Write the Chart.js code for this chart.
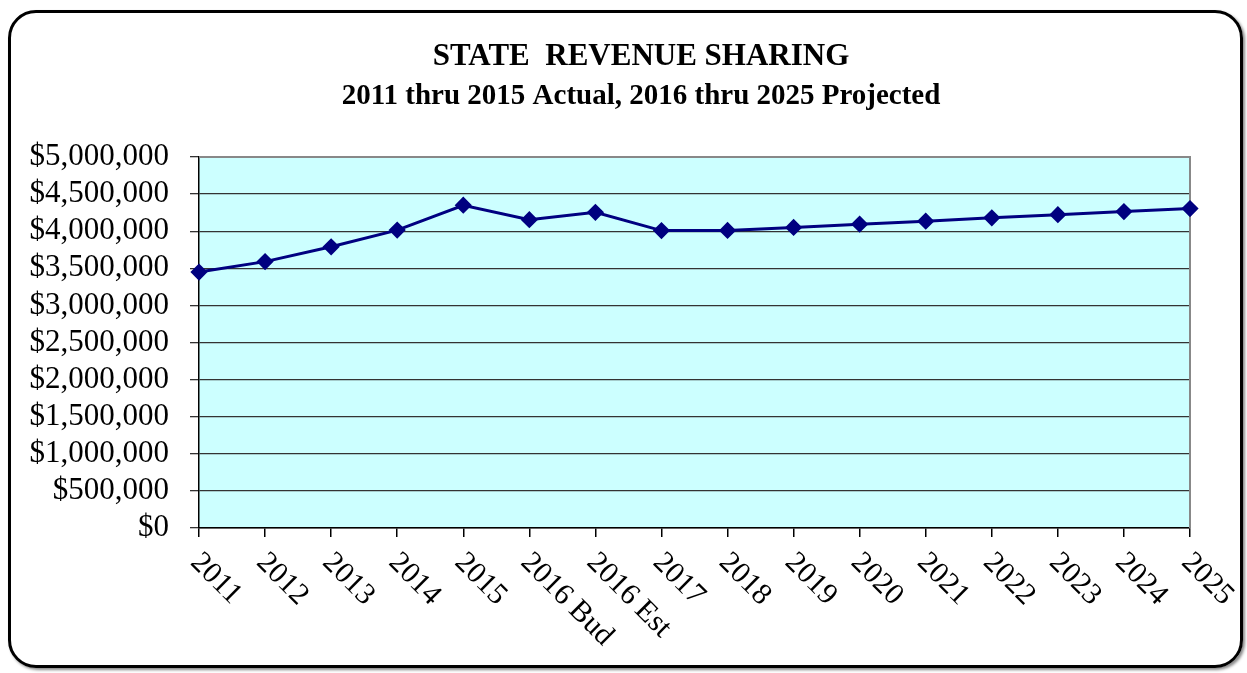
<!DOCTYPE html>
<html>
<head>
<meta charset="utf-8">
<script src="https://cdn.jsdelivr.net/npm/chart.js@4"></script>
<style>
    body { margin: 0; background: #fff; }
    #moldura {
        position: absolute; left: 8px; top: 10px; width: 1229px; height: 652px;
        border: 3px solid #000; border-radius: 28px;
        box-shadow: 2px 2px 3px #888;
    }
    #grafico { position: absolute; left: 0; top: 0; }
</style>
</head>
<body>
<div id="moldura"></div>
<canvas id="grafico" width="1247" height="673"></canvas>
<script>
    // dados
    var anos = ["2011", "2012", "2013", "2014", "2015", "2016 Bud", "2016 Est", "2017", "2018",
        "2019", "2020", "2021", "2022", "2023", "2024", "2025"]
    var receita = [3450000, 3590000, 3790000, 4015000, 4350000, 4155000, 4255000, 4008000, 4010000,
        4050000, 4095000, 4135000, 4180000, 4222000, 4265000, 4305000]
    var eixoYMin = 0
    var eixoYMax = 5000000
    var eixoYPasso = 500000

    var fonte = 'Liberation Serif'

    // fundo ciano da área do gráfico + borda cinza
    var fundoArea = {
        id: 'fundoArea',
        beforeDraw(chart) {
            var a = chart.chartArea, ctx = chart.ctx
            ctx.save()
            ctx.fillStyle = '#CCFFFF'
            ctx.fillRect(a.left, a.top, a.right - a.left, a.bottom - a.top)
            ctx.restore()
        },
        beforeDatasetsDraw(chart) {
            var a = chart.chartArea, ctx = chart.ctx
            ctx.save()
            ctx.strokeStyle = '#888'
            ctx.lineWidth = 2
            ctx.beginPath()
            ctx.moveTo(a.left, a.top)
            ctx.lineTo(a.right, a.top)
            ctx.lineTo(a.right, a.bottom)
            ctx.stroke()
            ctx.restore()
        }
    }

    // desloca o título um pouco para a direita (centro ~641px no original)
    var ajusteTitulo = {
        id: 'ajusteTitulo',
        afterLayout(chart) {
            chart.boxes.forEach((b) => {
                if (b.options && b.options.text !== undefined && b.position === 'top') {
                    b.left += 35
                    b.right += 35
                }
            })
        }
    }

    // rótulos do eixo x inclinados para baixo (como no Excel)
    var rotulosX = {
        id: 'rotulosX',
        afterDraw(chart) {
            var x = chart.scales.x, ctx = chart.ctx
            ctx.save()
            ctx.font = '30px ' + fonte
            ctx.fillStyle = '#000'
            ctx.textAlign = 'left'
            ctx.textBaseline = 'middle'
            x.ticks.forEach((t, i) => {
                var px = x.getPixelForTick(i)
                ctx.save()
                ctx.translate(px - 4, x.top + 30)
                ctx.rotate(Math.PI / 4)
                ctx.fillText(x.getLabelForValue(t.value), 0, 0)
                ctx.restore()
            })
            ctx.restore()
        }
    }

    var grafico = new Chart(document.getElementById('grafico').getContext('2d'), {
        type: 'line',
        data: {
            labels: anos,
            datasets: [{
                label: 'Receita',
                data: receita,
                borderColor: '#000080',
                backgroundColor: '#000080',
                borderWidth: 3,
                pointStyle: 'rectRot',
                pointRadius: 6.5,
                pointHoverRadius: 6.5,
                tension: 0
            }]
        },
        options: {
            responsive: false,
            animation: false,
            layout: {
                padding: { top: 26, left: 22, right: 57, bottom: 0 }
            },
            plugins: {
                legend: { display: false },
                tooltip: { enabled: false },
                title: {
                    display: true,
                    text: 'STATE  REVENUE SHARING',
                    color: '#000',
                    font: { size: 31, weight: 'bold', family: fonte, lineHeight: 1.2 },
                    padding: { top: 12, bottom: 4 }
                },
                subtitle: {
                    display: true,
                    text: '2011 thru 2015 Actual, 2016 thru 2025 Projected',
                    color: '#000',
                    font: { size: 29, weight: 'bold', family: fonte, lineHeight: 1.2 },
                    padding: { top: 0, bottom: 43 }
                }
            },
            scales: {
                x: {
                    offset: false,
                    afterFit(scale) { scale.height = 145 },
                    ticks: { display: false },
                    grid: {
                        drawOnChartArea: false,
                        drawTicks: true,
                        tickLength: 9,
                        color: '#000',
                        lineWidth: 1.5
                    },
                    border: { display: true, color: '#000', width: 1.5 }
                },
                y: {
                    min: eixoYMin,
                    max: eixoYMax,
                    afterFit(scale) { scale.width = 177 },
                    ticks: {
                        stepSize: eixoYPasso,
                        autoSkip: false,
                        color: '#000',
                        padding: 21,
                        font: { size: 31, family: fonte },
                        callback: (v) => '$' + v.toLocaleString('en-US')
                    },
                    grid: {
                        color: '#333',
                        lineWidth: 1.3,
                        tickLength: 9
                    },
                    border: { display: true, color: '#000', width: 1.5 }
                }
            }
        },
        plugins: [fundoArea, ajusteTitulo, rotulosX]
    });
</script>
</body>
</html>
